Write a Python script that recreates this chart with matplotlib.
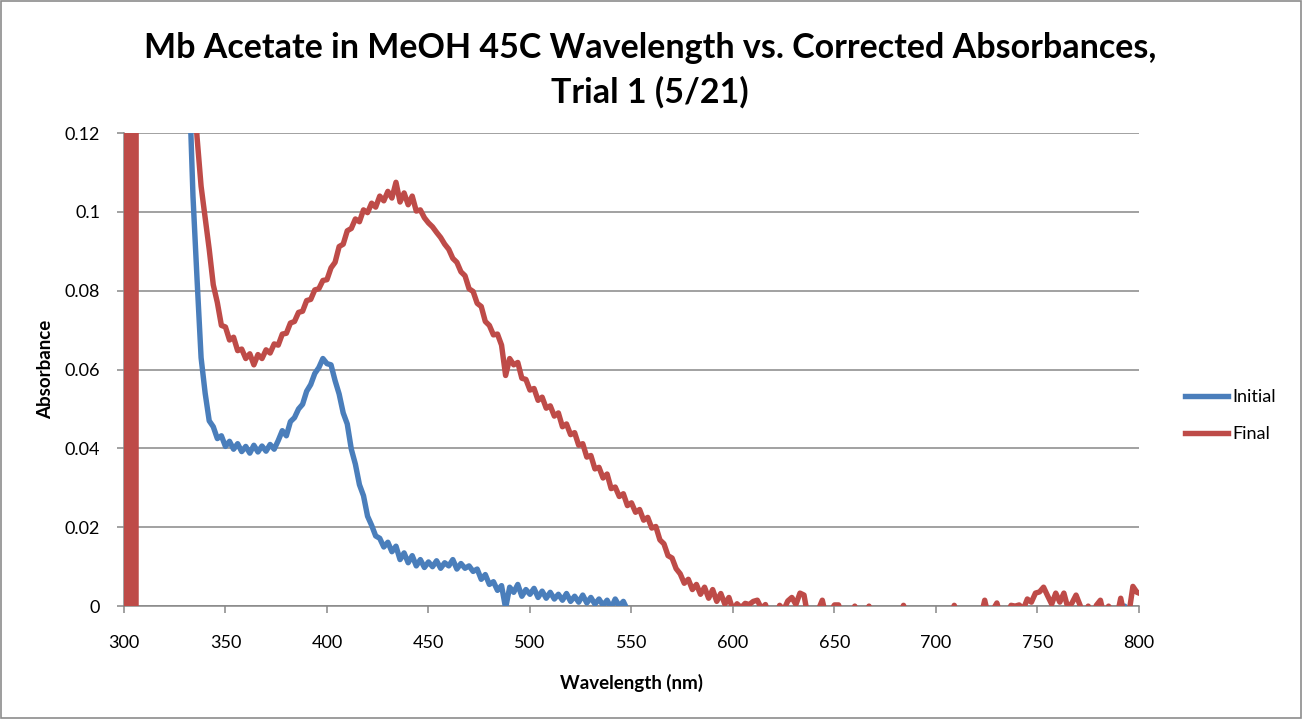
import numpy as np
import matplotlib.pyplot as plt
from matplotlib.patches import Rectangle
from matplotlib.ticker import FormatStrFormatter

plt.rcParams['font.family'] = ['Lato', 'DejaVu Sans']

# Initial spectrum, 330-550 nm every 2 nm (above 0.12 at the start)
blue_nm = np.arange(330, 551, 2)
blue_abs = [
    0.200, 0.135, 0.104, 0.083, 0.063, 0.054, 0.047, 0.0455, 0.0425, 0.0432,
    0.0405, 0.0418, 0.0398, 0.0412, 0.0392, 0.0405, 0.0388, 0.0408, 0.0391, 0.0406,
    0.0393, 0.0410, 0.0398, 0.0420, 0.0445, 0.0432, 0.0468, 0.0478, 0.0500, 0.0512,
    0.0545, 0.0562, 0.0590, 0.0605, 0.0628, 0.0615, 0.0612, 0.0572, 0.0538, 0.0490,
    0.0462, 0.0398, 0.0360, 0.0308, 0.0280, 0.0228, 0.0205, 0.0178, 0.0172, 0.0150,
    0.0162, 0.0138, 0.0152, 0.0118, 0.0135, 0.0110, 0.0128, 0.0102, 0.0118, 0.0098,
    0.0112, 0.0100, 0.0115, 0.0096, 0.0110, 0.0102, 0.0118, 0.0094, 0.0108, 0.0096,
    0.0102, 0.0088, 0.0094, 0.0068, 0.0080, 0.0055, 0.0062, 0.0040, 0.0052, -0.0005,
    0.0048, 0.0035, 0.0055, 0.0025, 0.0042, 0.0030, 0.0045, 0.0022, 0.0038, 0.0020,
    0.0035, 0.0018, 0.0030, 0.0015, 0.0032, 0.0012, 0.0025, 0.0010, 0.0028, 0.0008,
    0.0022, 0.0005, 0.0018, 0.0002, 0.0015, -0.0005, 0.0018, 0.0000, 0.0012, -0.0010,
    -0.0030,
]
blue_tail_nm = [560, 600, 700, 790, 793, 796, 800]
blue_tail_abs = [-0.003, -0.003, -0.003, -0.003, 0.0, -0.003, -0.003]

# Final spectrum: saturated readings at the very start of the scan
red_edge_nm = [300, 300.7, 301.4, 302.1, 302.8, 303.5, 304.2, 304.9, 305.6, 306.3, 320]
red_edge_abs = [-1, 1, -1, 1, -1, 1, -1, 1, -1, 1, 1]

# Final spectrum, 334-600 nm every 2 nm
red_nm = np.arange(334, 601, 2)
red_abs = [
    0.135, 0.119, 0.1065, 0.0985, 0.0905, 0.0815, 0.0770, 0.0712, 0.0708, 0.0675,
    0.0682, 0.0648, 0.0652, 0.0628, 0.0640, 0.0612, 0.0638, 0.0628, 0.0650, 0.0642,
    0.0665, 0.0662, 0.0690, 0.0692, 0.0718, 0.0722, 0.0745, 0.0748, 0.0775, 0.0778,
    0.0802, 0.0805, 0.0826, 0.0828, 0.0858, 0.0872, 0.0912, 0.0918, 0.0952, 0.0958,
    0.0982, 0.0975, 0.1005, 0.0998, 0.1022, 0.1012, 0.1040, 0.1028, 0.1052, 0.1035,
    0.1075, 0.1025, 0.1048, 0.1018, 0.1040, 0.1002, 0.1005, 0.0985, 0.0972, 0.0962,
    0.0948, 0.0935, 0.0918, 0.0905, 0.0882, 0.0872, 0.0848, 0.0838, 0.0805, 0.0798,
    0.0768, 0.0760, 0.0722, 0.0712, 0.0688, 0.0690, 0.0662, 0.0585, 0.0628, 0.0612,
    0.0618, 0.0578, 0.0575, 0.0548, 0.0552, 0.0522, 0.0530, 0.0502, 0.0508, 0.0482,
    0.0490, 0.0455, 0.0462, 0.0435, 0.0440, 0.0408, 0.0412, 0.0378, 0.0382, 0.0348,
    0.0352, 0.0325, 0.0335, 0.0298, 0.0302, 0.0278, 0.0285, 0.0255, 0.0262, 0.0238,
    0.0245, 0.0218, 0.0225, 0.0198, 0.0202, 0.0168, 0.0158, 0.0128, 0.0122, 0.0095,
    0.0082, 0.0058, 0.0068, 0.0042, 0.0055, 0.0030, 0.0048, 0.0020, 0.0042, 0.0012,
    0.0032, 0.0005, 0.0022, -0.0010,
]

# Final spectrum baseline noise 602-800 nm
red_tail_nm = [
    602, 604, 606, 608, 610, 612, 614, 616, 618,
    621, 623, 625, 627, 629, 631, 633, 635, 637, 639,
    642, 644, 646, 649, 650, 652, 654, 658, 660, 662,
    665, 667, 669, 682, 684, 686, 707, 709, 711, 722,
    724, 726, 728, 730, 732, 735, 737, 739, 741, 743,
    745, 747, 749, 751, 753, 755, 757, 759, 761, 763,
    765, 767, 769, 771, 773, 775, 777, 779, 781, 783,
    785, 789, 791, 793, 795, 797, 799, 800,
]
red_tail_abs = [
    0.0006, -0.0004, 0.0007, 0.0004, 0.0012, 0.0015, -0.0006, 0.0004, -0.0030,
    -0.0030, 0.0002, -0.0010, 0.0013, 0.0022, 0.0004, 0.0033, 0.0028, -0.0030, -0.0030,
    -0.0010, 0.0015, -0.0030, -0.0005, 0.0003, 0.0003, -0.0030, -0.0030, 0.0000, -0.0030,
    -0.0030, 0.0000, -0.0030, -0.0030, 0.0002, -0.0030, -0.0030, 0.0002, -0.0030, -0.0030,
    0.0015, -0.0030, -0.0010, 0.0008, -0.0030, -0.0020, 0.0002, 0.0000, 0.0003, -0.0008,
    0.0018, 0.0010, 0.0033, 0.0036, 0.0048, 0.0026, 0.0005, 0.0033, 0.0010, 0.0033,
    -0.0005, 0.0008, 0.0028, 0.0002, -0.0030, 0.0000, -0.0030, 0.0002, 0.0015, -0.0030,
    0.0000, -0.0030, 0.0020, -0.0030, -0.0020, 0.0050, 0.0035, 0.0033,
]

x_initial = np.concatenate([blue_nm, blue_tail_nm])
y_initial = np.concatenate([blue_abs, blue_tail_abs])
x_final = np.concatenate([red_edge_nm, red_nm, red_tail_nm])
y_final = np.concatenate([red_edge_abs, red_abs, red_tail_abs])

blue = "#4A7EBB"
red = "#BE4B48"
grey = "#878787"

fig = plt.figure(figsize=(13.02, 7.19), dpi=100)
ax = fig.add_axes([0.0952, 0.157, 0.7796, 0.658])

ax.plot(x_initial, y_initial, color=blue, lw=3.9, label="Initial",
        solid_joinstyle="round", zorder=3)
ax.plot(x_final, y_final, color=red, lw=3.9, label="Final",
        solid_joinstyle="round", zorder=4)

ax.set_xlim(300, 800)
ax.set_ylim(0, 0.12)
ax.set_xticks(np.arange(300, 801, 50))
ax.set_yticks(np.arange(0, 0.121, 0.02))
ax.yaxis.set_major_formatter(FormatStrFormatter('%g'))
ax.grid(axis="y", color=grey, lw=1.1)
ax.set_axisbelow(True)

for side in ["top", "right"]:
    ax.spines[side].set_visible(False)
for side in ["left", "bottom"]:
    ax.spines[side].set_color(grey)
    ax.spines[side].set_linewidth(1.1)
ax.tick_params(axis="both", direction="out", length=5, width=1.1, color=grey,
               labelsize=13)
ax.tick_params(axis="x", pad=16)
ax.tick_params(axis="y", pad=12)

ax.set_xlabel("Wavelength (nm)", fontsize=13.5, fontweight="bold", labelpad=16)
ax.set_ylabel("Absorbance", fontsize=13.5, fontweight="bold", labelpad=8)

fig.suptitle("Mb Acetate in MeOH 45C Wavelength vs. Corrected Absorbances,\nTrial 1 (5/21)",
             x=0.499, y=0.955, fontsize=24.5, fontweight="bold", linespacing=1.45)

ax.legend(loc="center left", bbox_to_anchor=(0.910, 0.422),
          bbox_transform=fig.transFigure, frameon=False, fontsize=13,
          handlelength=2.4, handletextpad=0.25, labelspacing=1.15,
          borderpad=0, borderaxespad=0)

fig.patches.append(Rectangle((0.001, 0.001), 0.998, 0.998, transform=fig.transFigure,
                             fill=False, edgecolor="#8c8c8c", lw=1.2))

fig.savefig("out.png", dpi=100)
